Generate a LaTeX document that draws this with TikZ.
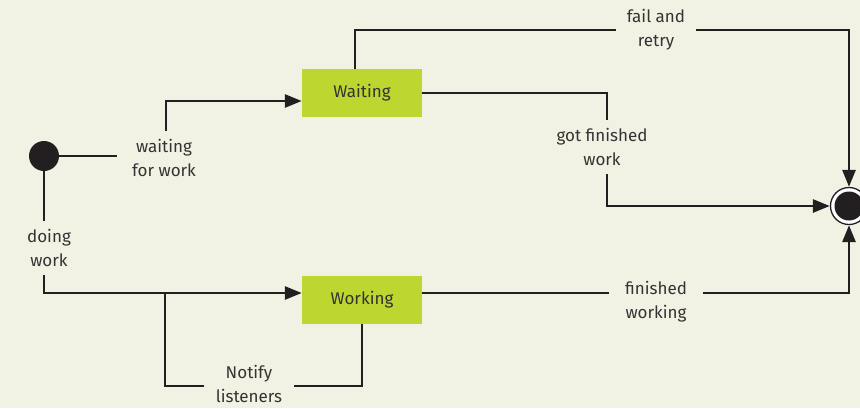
\documentclass[tikz,border=0pt]{standalone}
\usepackage{fontspec}
\setmainfont{Fira Sans}
\usetikzlibrary{arrows.meta}
\definecolor{bg}{HTML}{F2F2E4}
\definecolor{lime}{HTML}{BED630}
\definecolor{ink}{HTML}{231F20}
\definecolor{txt}{HTML}{333333}
\begin{document}
\begin{tikzpicture}[x=1pt,y=-1pt,
 statebox/.style={fill=lime, minimum width=120pt, minimum height=48pt, inner sep=0pt, text=txt, font=\fontsize{17}{24}\selectfont},
 lbl/.style={fill=bg, text=txt, align=center, inner xsep=12pt, inner ysep=8pt, font=\fontsize{17}{24}\selectfont},
 conn/.style={draw=ink, line width=2.8pt},
 arr/.style={conn, -{Triangle[length=17pt,width=13pt]}}]
\fill[bg] (0,0) rectangle (860,408);
\useasboundingbox (0,0) rectangle (860,408);
% nodes
\node[circle, fill=ink, minimum size=30pt, inner sep=0pt] (init) at (44,156) {};
\node[statebox] (wait) at (362,93) {Waiting};
\node[statebox] (work) at (362,300) {Working};
\node[circle, draw=ink, line width=1.3pt, fill=white, minimum size=37pt, inner sep=0pt] (final) at (849,206) {};
\node[circle, fill=ink, minimum size=29pt, inner sep=0pt] (finalcore) at (final.center) {};
% helper coordinates
\coordinate (a1) at (166,156);
\coordinate (a2) at (166,101);
\coordinate (d1) at (44,293);
\coordinate (n1) at (165,293);
\coordinate (n2) at (165,386);
\coordinate (n3) at (362,386);
\coordinate (f1) at (355,30);
\coordinate (g1) at (607,93);
\coordinate (h1) at (849,293);
% connectors
\draw[arr] (init.east) -- (a1) -- (a2) -- (wait.west |- a2);
\draw[arr] (init.south) -- (d1) -- (work.west |- d1);
\draw[conn] (n1) -- (n2) -- (n3) -- (work.south);
\draw[arr] (wait.north -| f1) -- (f1) -- (f1 -| final) -- (final.north);
\draw[arr] (wait.east |- g1) -- (g1) -- (g1 |- final) -- (final.west);
\draw[arr] (work.east |- h1) -- (h1) -- (final.south);
% labels
\node[lbl, inner xsep=15pt] (lwait) at (164,158) {waiting\\for work};
\node[lbl] (ldoing) at (49,248) {doing\\work};
\node[lbl, inner ysep=4pt] (lnotify) at (249,384) {Notify\\listeners};
\node[lbl, inner xsep=11pt] (lfail) at (656,30) {fail and\\retry};
\node[lbl] (lgot) at (602,147) {got finished\\work};
\node[lbl, inner xsep=16pt] (lfin) at (656,302) {finished\\working};
\end{tikzpicture}
\end{document}
